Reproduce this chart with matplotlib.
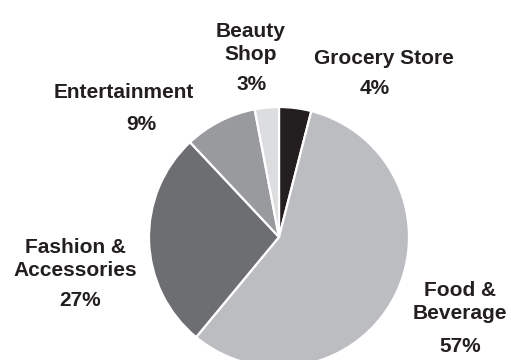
import matplotlib.pyplot as plt

# Share of spending by category, clockwise from 12 o'clock
categories = ["Grocery Store", "Food &\nBeverage", "Fashion &\nAccessories",
              "Entertainment", "Beauty\nShop"]
shares = [4, 57, 27, 9, 3]
colors = ["#231f20", "#bcbdc0", "#6d6e71", "#999a9d", "#dcdddf"]

# Label anchor points (name centre, percent centre) in pixel units, y up
name_pos = [(384, 301), (460, 58), (75, 101), (124, 268), (251, 317)]
pct_pos = [(375, 272), (460, 13), (80, 60), (141, 236), (252, 276)]

plt.rcParams['font.family'] = ['Liberation Sans', 'DejaVu Sans']

fig = plt.figure(figsize=(5.11, 3.6), dpi=100)
ax = fig.add_axes([0, 0, 1, 1])

ax.pie(shares, colors=colors, startangle=90, counterclock=False,
       center=(279, 123), radius=130, frame=True,
       wedgeprops=dict(edgecolor='white', linewidth=1.6))
ax.set_xlim(0, 511)
ax.set_ylim(0, 360)
ax.axis('off')

for name, share, (nx, ny), (px, py) in zip(categories, shares, name_pos, pct_pos):
    ax.text(nx, ny, name, ha='center', va='center', fontsize=15,
            fontweight='bold', color='#231f20', linespacing=1.25)
    ax.text(px, py, f"{share}%", ha='center', va='center', fontsize=15,
            fontweight='bold', color='#231f20')

fig.savefig("out.png", dpi=100)
